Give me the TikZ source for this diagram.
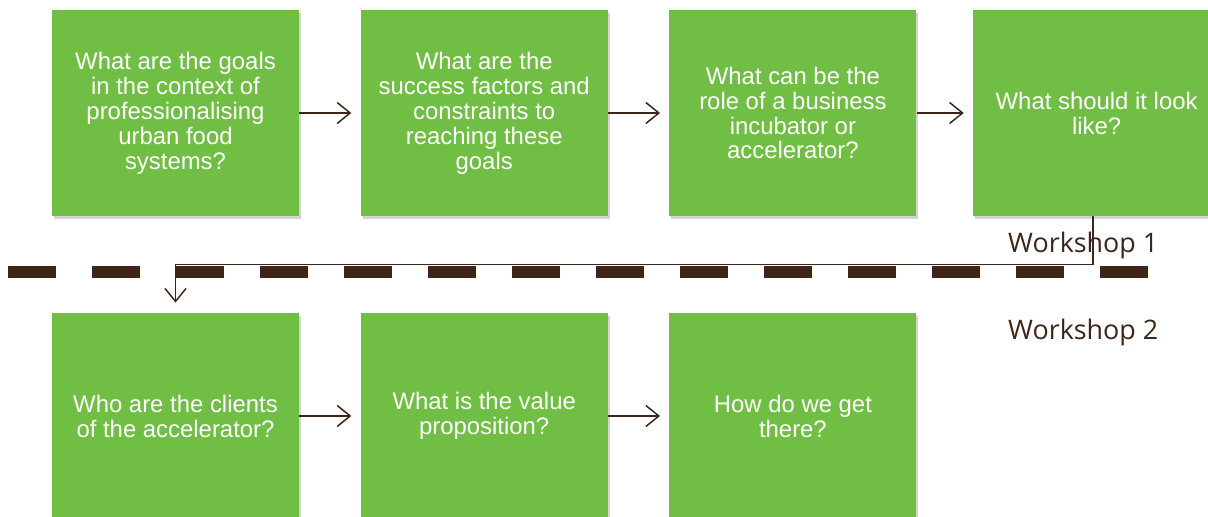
\documentclass[tikz,border=0pt]{standalone}
\usepackage{fontspec}
\setmainfont{Liberation Sans}
\newfontfamily\wsfont{Open Sans}
\usetikzlibrary{arrows.meta,positioning,shadows}
\definecolor{boxgreen}{RGB}{113,190,69}
\definecolor{darkbrown}{RGB}{62,37,24}

\begin{document}
\begin{tikzpicture}[node distance=1.22cm and 1.22cm,
    question/.style={rectangle,fill=boxgreen,minimum width=4.94cm,minimum height=4.12cm,
                     text=white,align=center,font=\fontsize{13.6}{14.2}\selectfont,
                     drop shadow={opacity=0.35,shadow xshift=0.04cm,shadow yshift=-0.06cm}},
    flow/.style={darkbrown,line width=0.85pt,-{Straight Barb[length=0.26cm,width=0.42cm]},
                 shorten >=0.18cm},
    wslabel/.style={anchor=west,text=darkbrown,font=\wsfont\fontsize{15.3}{18}\selectfont}]

  \useasboundingbox (0,0) rectangle (24.16,10.34);

  % workshop 1
  \node[question] (goals) at (3.51,8.08)
       {What are the goals\\in the context of\\professionalising\\urban food\\systems?};
  \node[question] (factors) [right=of goals]
       {What are the\\success factors and\\constraints to\\reaching these\\goals};
  \node[question] (role) [right=of factors]
       {What can be the\\role of a business\\incubator or\\accelerator?};
  \node[question] (look) [right=1.12cm of role]
       {What should it look\\like?};

  % workshop 2
  \node[question] (clients) at (3.51,2.02)
       {Who are the clients\\of the accelerator?};
  \node[question] (value) [right=of clients]
       {What is the value\\proposition?};
  \node[question] (there) [right=of value]
       {How do we get\\there?};

  \node[wslabel] (ws1) at (20.04,5.42) {Workshop 1};
  \node[wslabel] (ws2) at (20.04,3.68) {Workshop 2};

  % separator
  \draw[darkbrown,line width=0.24cm,dash pattern=on 0.96cm off 0.72cm]
       (0.16,4.9) -- (22.96,4.9);

  \path (goals)   edge[flow] (factors)
        (factors) edge[flow] (role)
        (role)    edge[flow] (look)
        (clients) edge[flow] (value)
        (value)   edge[flow] (there);

  \coordinate (bend) at ([xshift=-0.07cm,yshift=-0.96cm]look.south);
  \draw[flow,shorten >=0.2cm] ([xshift=-0.07cm]look.south) -- (bend) -| (clients.north);

\end{tikzpicture}
\end{document}
